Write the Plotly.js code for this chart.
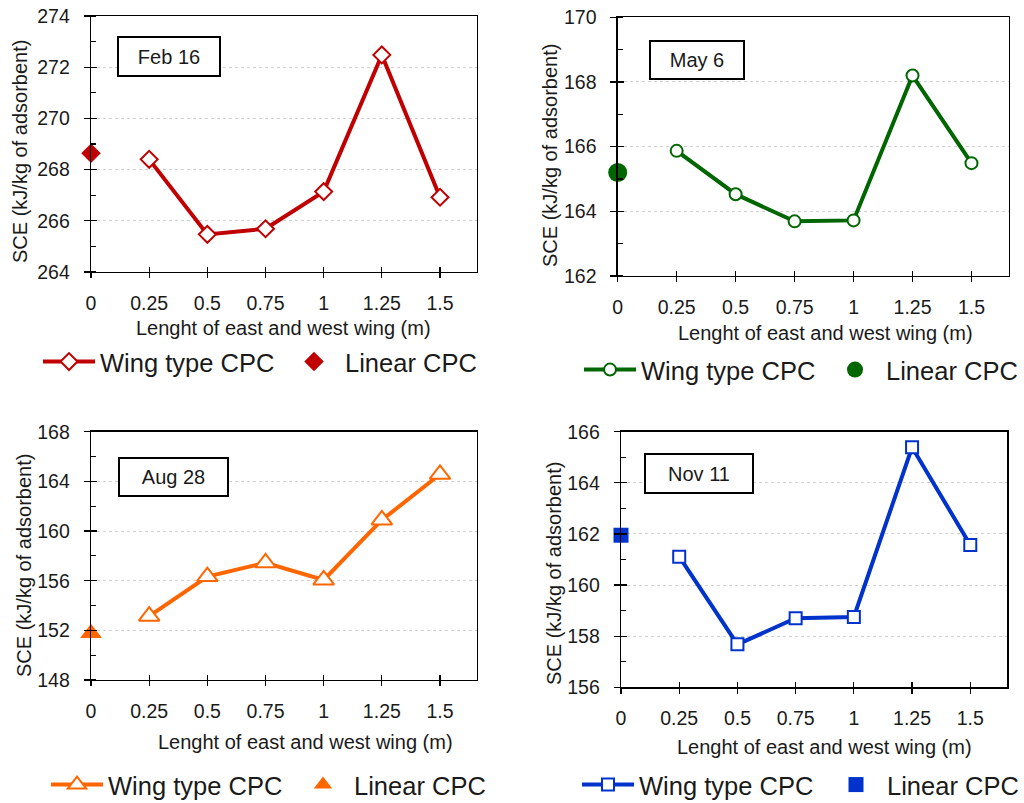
<!DOCTYPE html>
<html>
<head>
<meta charset="utf-8">
<script src="https://cdn.plot.ly/plotly-3.0.1.min.js"></script>
<style>
  html, body { margin: 0; padding: 0; background: #ffffff; overflow: hidden; }
  #chart { width: 1024px; height: 803px; }
</style>
</head>
<body>
<div id="chart"></div>
<script>
// ---------------- data ----------------
const xWing = [0.25, 0.5, 0.75, 1, 1.25, 1.5];
const xLinear = [0];
const xTickVals = [0, 0.25, 0.5, 0.75, 1, 1.25, 1.5];
const xTickText = ["0", "0.25", "0.5", "0.75", "1", "1.25", "1.5"];

const feb16Wing = [268.40, 265.47, 265.69, 267.14, 272.48, 266.92];
const feb16Linear = [268.64];
const may6Wing = [165.87, 164.53, 163.69, 163.72, 168.20, 165.49];
const may6Linear = [165.20];
const aug28Wing = [153.14, 156.33, 157.44, 156.06, 160.89, 164.57];
const aug28Linear = [151.77];
const nov11Wing = [161.11, 157.68, 158.70, 158.75, 165.39, 161.57];
const nov11Linear = [161.95];

const panelLabels = ["Feb 16", "May 6", "Aug 28", "Nov 11"];
const seriesNames = ["Wing type CPC", "Linear CPC"];
const xTitle = "Lenght of east and west wing (m)";
const yTitle = "SCE (kJ/kg of adsorbent)";

// ---------------- styling ----------------
const W = 1024, H = 803;
const FONT = "Liberation Sans, Arial, sans-serif";
const TXT = "#1a1a1a";
const px = v => v / W;
const py = v => 1 - v / H;

const panels = [
  { wing: feb16Wing, lin: feb16Linear, color: "#C00000", sym: "diamond", sz: 13, lsz: 15,
    xd: [91, 477], yd: [16, 272], yr: [264, 274], dt: 2, mdt: 1,
    label: { cx: 169, cy: 56.5, w: 100, h: 37 },
    xt: { x: 283, y: 328 }, yt: { x: 20, y: 152 },
    leg: { x: 38, y: 362, ew: 178 } },
  { wing: may6Wing, lin: may6Linear, color: "#006600", sym: "circle", sz: 12, lsz: 19,
    xd: [617.7, 1009], yd: [17.3, 276], yr: [162, 170], dt: 2, mdt: 1,
    label: { cx: 697, cy: 60, w: 92, h: 36 },
    xt: { x: 825, y: 333 }, yt: { x: 550, y: 156 },
    leg: { x: 579, y: 370, ew: 178 } },
  { wing: aug28Wing, lin: aug28Linear, color: "#FF6600", sym: "triangle-up", sz: 18, lsz: 19,
    xd: [91, 477], yd: [431.7, 680], yr: [148, 168], dt: 4, mdt: 2,
    label: { cx: 173.5, cy: 477, w: 107, h: 36 },
    xt: { x: 305, y: 742 }, yt: { x: 24, y: 566 },
    leg: { x: 46, y: 785, ew: 179 } },
  { wing: nov11Wing, lin: nov11Linear, color: "#0033CC", sym: "square", sz: 12, lsz: 15,
    xd: [621, 1007.3], yd: [431.7, 687.3], yr: [156, 166], dt: 2, mdt: 1,
    label: { cx: 699, cy: 473.5, w: 106, h: 37 },
    xt: { x: 824, y: 747 }, yt: { x: 554, y: 574 },
    leg: { x: 577, y: 785, ew: 181 } }
];

const traces = [];
const layout = {
  width: W, height: H,
  margin: { l: 0, r: 0, t: 0, b: 0, pad: 0, autoexpand: false },
  paper_bgcolor: "#ffffff",
  plot_bgcolor: "#ffffff",
  font: { family: FONT, color: TXT },
  showlegend: true,
  annotations: []
};

panels.forEach((p, i) => {
  const n = i === 0 ? "" : String(i + 1);
  const xa = "x" + n, ya = "y" + n;
  const on = String(i + 5);           // overlay axes used for the inner half of crossing ticks
  const xo = "x" + on, yo = "y" + on;
  const legName = "legend" + n;

  traces.push({
    type: "scatter", mode: "lines+markers",
    x: xWing, y: p.wing, xaxis: xa, yaxis: ya,
    name: seriesNames[0], legend: legName,
    line: { color: p.color, width: 4 },
    marker: { symbol: p.sym, size: p.sz, color: "#ffffff", line: { color: p.color, width: 2 } },
    cliponaxis: false, hoverinfo: "x+y"
  });
  traces.push({
    type: "scatter", mode: "markers",
    x: xLinear, y: p.lin, xaxis: xa, yaxis: ya,
    name: seriesNames[1], legend: legName,
    marker: { symbol: p.sym, size: p.lsz, color: p.color, line: { width: 0 } },
    cliponaxis: false, hoverinfo: "x+y"
  });
  // empty helper traces so the overlay tick axes are drawn
  traces.push({ type: "scatter", x: [], y: [], xaxis: xo, yaxis: ya, showlegend: false, hoverinfo: "skip" });
  traces.push({ type: "scatter", x: [], y: [], xaxis: xa, yaxis: yo, showlegend: false, hoverinfo: "skip" });

  const tickFont = { family: FONT, size: 19.5, color: TXT };

  layout["xaxis" + n] = {
    domain: [px(p.xd[0]), px(p.xd[1])],
    anchor: ya,
    range: [0, 1.659],
    tickmode: "array", tickvals: xTickVals, ticktext: xTickText,
    ticks: "outside", ticklen: 5, tickwidth: 1.3, tickcolor: "#000",
    ticklabelstandoff: 8,
    showline: true, linecolor: "#000", linewidth: 1.3, mirror: true,
    showgrid: false, zeroline: false,
    tickfont: tickFont,
    fixedrange: true
  };
  layout["xaxis" + on] = {
    overlaying: xa, anchor: ya, side: "bottom",
    range: [0, 1.659],
    tickmode: "array", tickvals: xTickVals,
    ticks: "inside", ticklen: 5, tickwidth: 1.3, tickcolor: "#000",
    showticklabels: false, showline: false, showgrid: false, zeroline: false,
    fixedrange: true
  };
  layout["yaxis" + n] = {
    domain: [py(p.yd[1]), py(p.yd[0])],
    anchor: xa,
    range: p.yr, dtick: p.dt, tick0: p.yr[0],
    ticks: "outside", ticklen: 6, tickwidth: 1.3, tickcolor: "#000",
    ticklabelstandoff: 10,
    minor: { dtick: p.mdt, tick0: p.yr[0], ticks: "inside", ticklen: 5, tickwidth: 1.3, tickcolor: "#000", showgrid: false },
    showline: true, linecolor: "#000", linewidth: 1.3, mirror: true,
    showgrid: true, gridcolor: "#d0d0d0", griddash: "dot", gridwidth: 1,
    zeroline: false,
    tickfont: tickFont,
    fixedrange: true
  };
  layout["yaxis" + on] = {
    overlaying: ya, anchor: xa, side: "left",
    range: p.yr, dtick: p.dt, tick0: p.yr[0],
    ticks: "inside", ticklen: 6, tickwidth: 1.3, tickcolor: "#000",
    showticklabels: false, showline: false, showgrid: false, zeroline: false,
    fixedrange: true
  };

  layout[legName] = {
    orientation: "h",
    x: px(p.leg.x), y: py(p.leg.y),
    xanchor: "left", yanchor: "middle",
    xref: "paper", yref: "paper",
    bgcolor: "rgba(0,0,0,0)", borderwidth: 0,
    font: { family: FONT, size: 25.5, color: TXT },
    itemwidth: 52,
    entrywidth: p.leg.ew, entrywidthmode: "pixels",
    itemclick: false, itemdoubleclick: false,
    traceorder: "normal"
  };

  // date label box
  layout.annotations.push({
    xref: "paper", yref: "paper",
    x: px(p.label.cx), y: py(p.label.cy),
    xanchor: "center", yanchor: "middle",
    text: panelLabels[i], showarrow: false,
    width: p.label.w, height: p.label.h,
    bgcolor: "#ffffff", bordercolor: "#000", borderwidth: 2, borderpad: 0,
    font: { family: FONT, size: 20, color: TXT }
  });
  // x title
  layout.annotations.push({
    xref: "paper", yref: "paper",
    x: px(p.xt.x), y: py(p.xt.y),
    xanchor: "center", yanchor: "middle",
    text: xTitle, showarrow: false,
    font: { family: FONT, size: 20, color: TXT }
  });
  // y title
  layout.annotations.push({
    xref: "paper", yref: "paper",
    x: px(p.yt.x), y: py(p.yt.y),
    xanchor: "center", yanchor: "middle",
    text: yTitle, showarrow: false, textangle: -90,
    font: { family: FONT, size: 20, color: TXT }
  });
});

Plotly.newPlot("chart", traces, layout, { displayModeBar: false, staticPlot: true });
</script>
</body>
</html>
